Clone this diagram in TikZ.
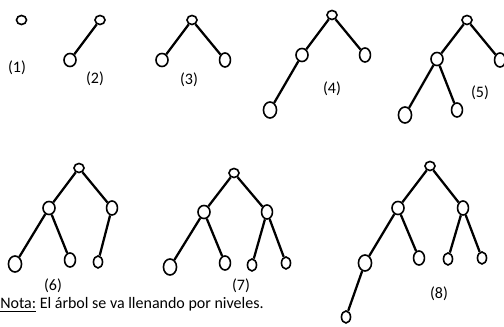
\documentclass[tikz,border=0pt]{standalone}
\usepackage{fontspec}
\setmainfont{Carlito}
\usetikzlibrary{shapes.geometric}

\begin{document}
\begin{tikzpicture}[
  x=0.75pt, y=-0.75pt, font=\fontsize{12}{14}\selectfont,
  nd/.style={draw, ellipse, line width=1.2pt, inner sep=0pt},
  rt/.style={nd, minimum width=7.5pt, minimum height=6.8pt},
  md/.style={nd, minimum width=9pt, minimum height=9.8pt},
  lf/.style={nd, minimum width=8.2pt, minimum height=10.5pt},
  bg/.style={nd, minimum width=9.8pt, minimum height=12pt},
  sm/.style={nd, minimum width=6.8pt, minimum height=9pt},
  br/.style={line width=1.7pt},
  lbl/.style={inner sep=0pt}
]
\useasboundingbox (0,0) rectangle (504,327);

%% (1)
\node[rt] (a1) at (21.5, 20) {};
\node[lbl] (ta) at (17, 68) {(1)};

%% (2)
\node[rt] (b1) at (100, 20) {};
\node[md] (b2) at (70, 60) {};
\node[lbl] (tb) at (95, 79) {(2)};
\draw[br] (b1) -- (b2);

%% (3)
\node[rt] (c1) at (192, 20) {};
\node[md] (c2) at (162, 60) {};
\node[lf] (c3) at (225, 60) {};
\node[lbl] (tc) at (189, 80) {(3)};
\draw[br] (c1) -- (c2);
\draw[br] (c1) -- (c3);

%% (4)
\node[rt] (d1) at (332, 15) {};
\node[md] (d2) at (302, 55) {};
\node[lf] (d3) at (365, 55) {};
\node[bg] (d4) at (270, 110) {};
\node[lbl] (td) at (332, 89) {(4)};
\draw[br] (d1) -- (d2);
\draw[br] (d1) -- (d3);
\draw[br] (d2) -- (d4);

%% (5)
\node[rt] (e1) at (467, 20) {};
\node[md] (e2) at (437, 59) {};
\node[lf] (e3) at (500, 60) {};
\node[bg] (e4) at (405, 115) {};
\node[lf] (e5) at (457, 110) {};
\node[lbl] (te) at (480, 93) {(5)};
\draw[br] (e1) -- (e2);
\draw[br] (e1) -- (e3);
\draw[br] (e2) -- (e4);
\draw[br] (e2) -- (e5);

%% (6)
\node[rt] (f1) at (79, 168) {};
\node[md] (f2) at (49, 208) {};
\node[lf] (f3) at (112, 208) {};
\node[bg] (f4) at (15, 264) {};
\node[lf] (f5) at (70, 260) {};
\node[sm] (f6) at (98, 262) {};
\node[lbl] (tf) at (53, 286) {(6)};
\draw[br] (f1) -- (f2);
\draw[br] (f1) -- (f3);
\draw[br] (f2) -- (f4);
\draw[br] (f2) -- (f5);
\draw[br] (f3) -- (f6);

%% (7)
\node[rt] (g1) at (234, 173) {};
\node[md] (g2) at (204, 212) {};
\node[lf] (g3) at (267, 212) {};
\node[bg] (g4) at (170, 267) {};
\node[lf] (g5) at (225, 263) {};
\node[sm] (g6) at (252, 265) {};
\node[sm] (g7) at (286, 263) {};
\node[lbl] (tg) at (241, 286) {(7)};
\draw[br] (g1) -- (g2);
\draw[br] (g1) -- (g3);
\draw[br] (g2) -- (g4);
\draw[br] (g2) -- (g5);
\draw[br] (g3) -- (g6);
\draw[br] (g3) -- (g7);

%% (8)
\node[rt] (h1) at (430, 166) {};
\node[md] (h2) at (398, 208) {};
\node[lf] (h3) at (463, 208) {};
\node[bg] (h4) at (365, 263) {};
\node[lf] (h5) at (419, 258) {};
\node[sm] (h6) at (448, 259) {};
\node[sm] (h7) at (482, 258) {};
\node[sm] (h8) at (346, 317) {};
\node[lbl] (th) at (439, 294) {(8)};
\draw[br] (h1) -- (h2);
\draw[br] (h1) -- (h3);
\draw[br] (h2) -- (h4);
\draw[br] (h2) -- (h5);
\draw[br] (h3) -- (h6);
\draw[br] (h3) -- (h7);
\draw[br] (h4) -- (h8);

%% note
\node[lbl, anchor=base west] (nota) at (0, 309) {\underline{Nota:} El árbol se va llenando por niveles.};
\end{tikzpicture}
\end{document}
